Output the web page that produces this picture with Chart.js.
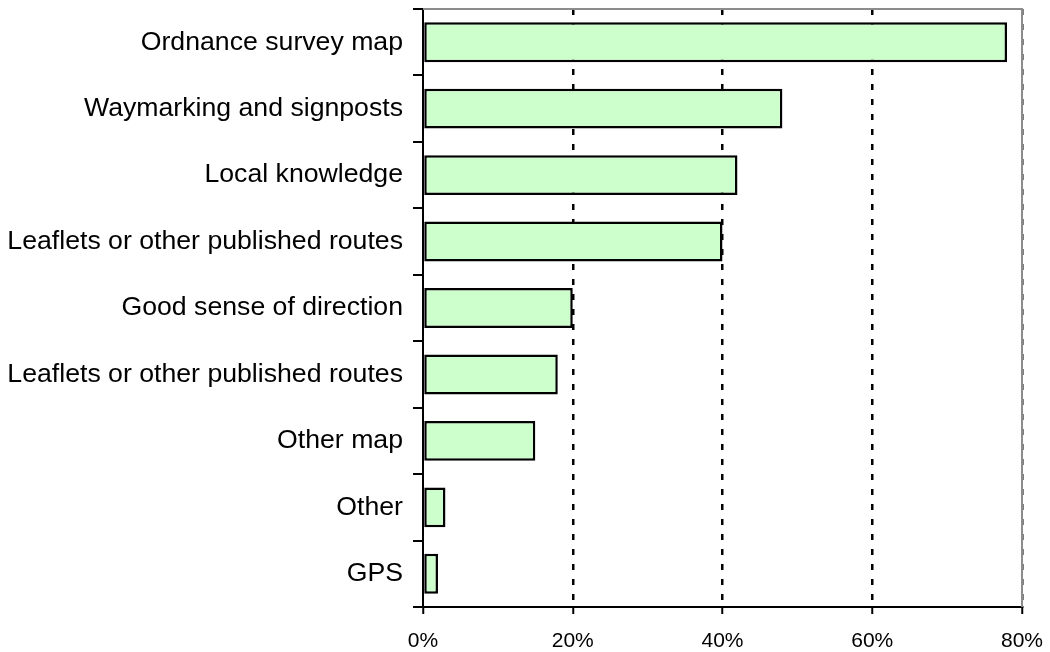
<!DOCTYPE html>
<html>
<head>
<meta charset="utf-8">
<script src="https://cdn.jsdelivr.net/npm/chart.js@4/dist/chart.umd.min.js"></script>
<style>
  html, body { margin: 0; padding: 0; background: #fff; }
</style>
</head>
<body>
<canvas id="myChart" width="1050" height="652"></canvas>
<script>
// ---------------------------DATA---------------------//
var categories = [
    "Ordnance survey map",
    "Waymarking and signposts",
    "Local knowledge",
    "Leaflets or other published routes",
    "Good sense of direction",
    "Leaflets or other published routes",
    "Other map",
    "Other",
    "GPS"
];
var percents = [78, 48, 42, 40, 20, 18, 15, 3, 2];
var xTicks = [0, 20, 40, 60, 80];

// grey frame on top and right of the plot area
var frame = {
    id: "frame",
    afterDraw: function (chart) {
        var a = chart.chartArea, c = chart.ctx;
        c.save();
        c.strokeStyle = "#8c8c8c";
        c.lineWidth = 2;
        c.beginPath();
        c.moveTo(a.left, a.top);
        c.lineTo(a.right, a.top);
        c.lineTo(a.right, a.bottom);
        c.stroke();
        c.restore();
    }
};

var ctx = document.getElementById("myChart");
new Chart(ctx, {
    type: "bar",
    data: {
        labels: categories,
        datasets: [
            {
                data: percents,
                backgroundColor: "#ccffcc",
                borderColor: "#000000",
                borderWidth: 2.5,
                borderSkipped: false,
                barPercentage: 0.6,
                categoryPercentage: 1
            }
        ]
    },
    options: {
        indexAxis: "y",
        responsive: false,
        animation: false,
        layout: {
            padding: { left: 0, right: 28, top: 9, bottom: 0 }
        },
        plugins: {
            legend: { display: false },
            tooltip: { enabled: false }
        },
        scales: {
            x: {
                min: 0,
                max: 80,
                afterBuildTicks: function (axis) {
                    axis.ticks = xTicks.map(function (v) { return { value: v }; });
                },
                afterFit: function (axis) {
                    axis.height = 45;
                    axis.paddingLeft = 0;
                    axis.paddingRight = 0;
                },
                ticks: {
                    color: "#000",
                    font: { family: "Liberation Sans", size: 21 },
                    padding: 15,
                    maxRotation: 0,
                    callback: function (v) { return v + "%"; }
                },
                grid: {
                    color: function (c) {
                        if (c.tick && c.tick.value === 0) return "rgba(0,0,0,0)";
                        return "#000";
                    },
                    lineWidth: 2.5,
                    tickColor: "#000",
                    tickWidth: 2,
                    tickLength: 7
                },
                border: { color: "#000", width: 2, dash: [6, 9] }
            },
            y: {
                afterFit: function (axis) {
                    axis.width = 423;
                    axis.paddingTop = 0;
                    axis.paddingBottom = 0;
                },
                ticks: {
                    color: "#000",
                    font: { family: "Liberation Sans", size: 26.67 },
                    padding: 10
                },
                grid: {
                    drawOnChartArea: false,
                    offset: true,
                    tickColor: "#000",
                    tickLength: 10,
                    lineWidth: 2
                },
                border: { color: "#000", width: 2 }
            }
        }
    },
    plugins: [frame]
});
</script>
</body>
</html>
